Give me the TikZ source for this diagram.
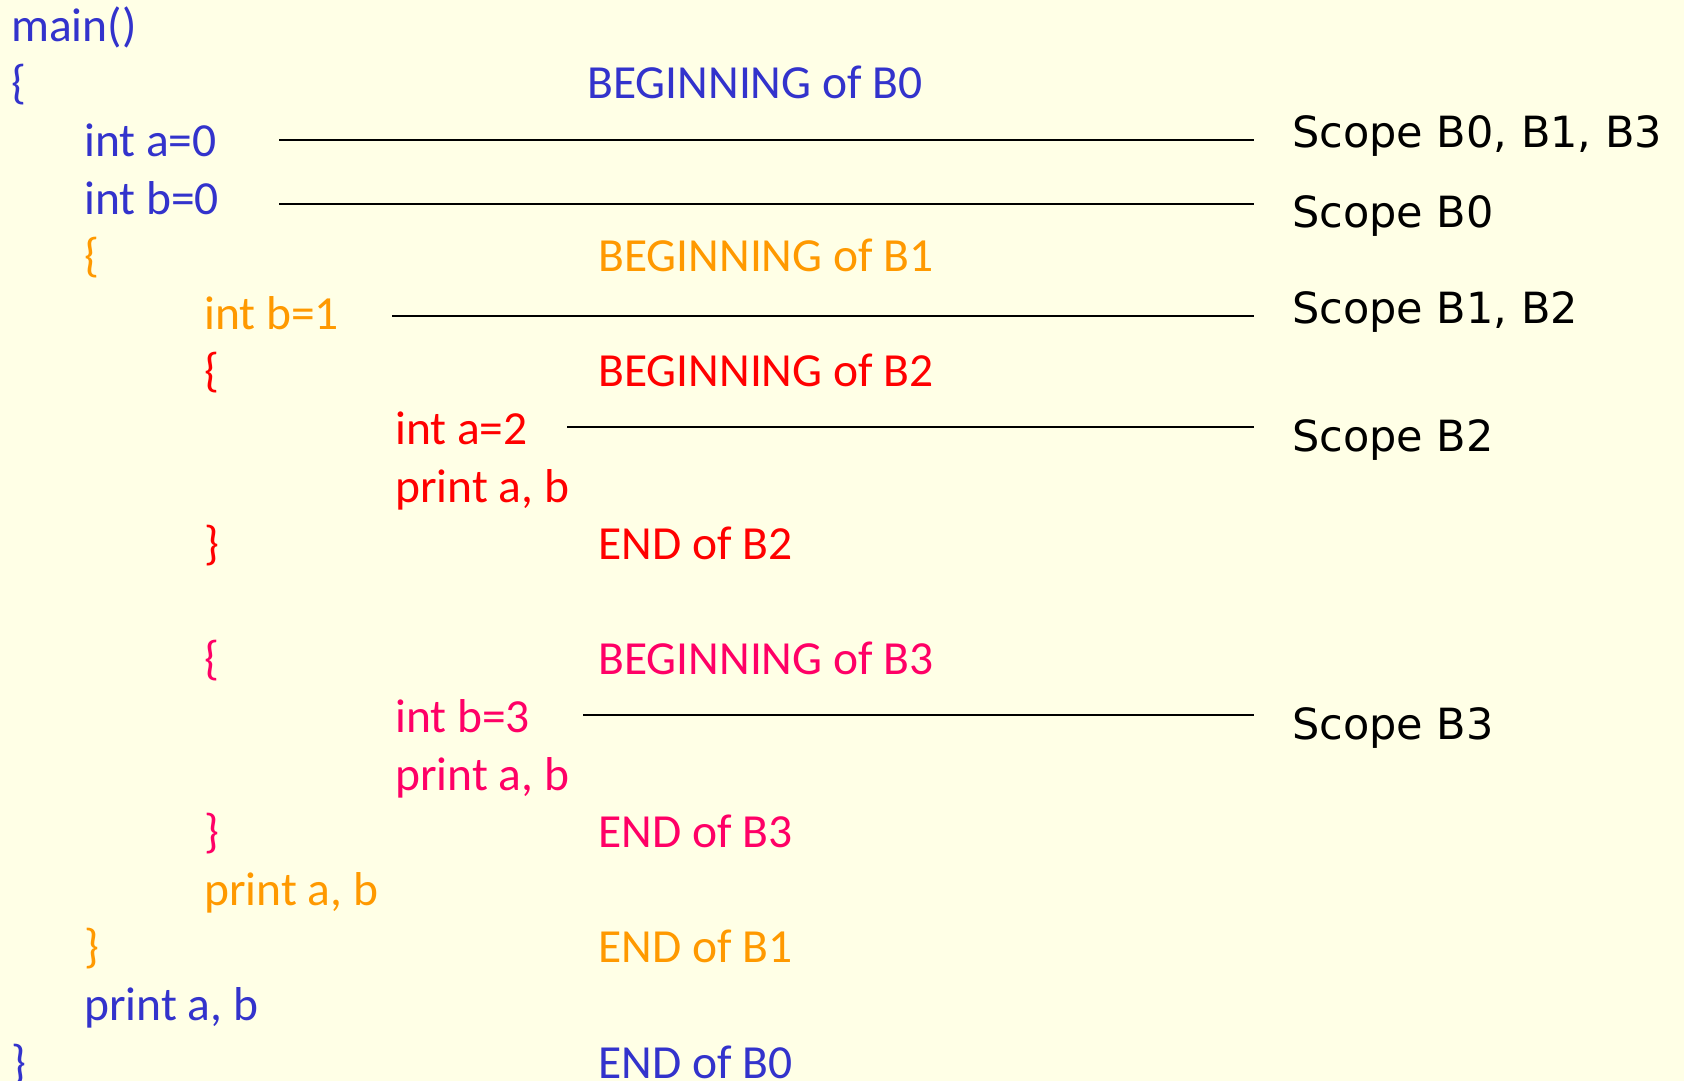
\documentclass[tikz,border=0pt]{standalone}
\usepackage{fontspec}
\setmainfont{Carlito}
\newfontfamily\scopefont{DejaVu Sans}
\definecolor{bgc}{RGB}{255,255,230}
\definecolor{cblue}{RGB}{51,51,204}
\definecolor{corange}{RGB}{255,153,0}
\definecolor{cred}{RGB}{255,0,0}
\definecolor{cpink}{RGB}{255,0,102}
\begin{document}
\begin{tikzpicture}[x=1pt,y=-1pt,
  code/.style={anchor=base west,inner sep=0pt,font=\fontsize{47.5}{57}\selectfont},
  scopelbl/.style={anchor=base west,inner sep=0pt,font=\scopefont\fontsize{43}{52}\selectfont,text=black},
  scopeline/.style={draw=black,line width=2pt}]
\fill[bgc] (0,0) rectangle (1684,1081);
\useasboundingbox (0,0) rectangle (1684,1081);
% rows: baseline = 41.2 + 57.6 k
\node[code,text=cblue] (main) at (11,41.2) {main()};
\node[code,text=cblue] (ob0) at (11,98.8) {\{};
\node[code,text=cblue] (beg0) at (587,98.8) {BEGINNING of B0};
\node[code,text=cblue] (ia0) at (84,156.4) {int a=0};
\node[code,text=cblue] (ib0) at (84,214) {int b=0};
\node[code,text=corange] (ob1) at (84,271.6) {\{};
\node[code,text=corange] (beg1) at (598,271.6) {BEGINNING of B1};
\node[code,text=corange] (ib1) at (204,329.2) {int b=1};
\node[code,text=cred] (ob2) at (204,386.8) {\{};
\node[code,text=cred] (beg2) at (598,386.8) {BEGINNING of B2};
\node[code,text=cred] (ia2) at (395,444.4) {int a=2};
\node[code,text=cred] (pr2) at (395,502) {print a, b};
\node[code,text=cred] (cb2) at (204,559.6) {\}};
\node[code,text=cred] (end2) at (598,559.6) {END of B2};
\node[code,text=cpink] (ob3) at (204,674.8) {\{};
\node[code,text=cpink] (beg3) at (598,674.8) {BEGINNING of B3};
\node[code,text=cpink] (ib3) at (395,732.4) {int b=3};
\node[code,text=cpink] (pr3) at (395,790) {print a, b};
\node[code,text=cpink] (cb3) at (204,847.6) {\}};
\node[code,text=cpink] (end3) at (598,847.6) {END of B3};
\node[code,text=corange] (pr1) at (204,905.2) {print a, b};
\node[code,text=corange] (cb1) at (84,962.8) {\}};
\node[code,text=corange] (end1) at (598,962.8) {END of B1};
\node[code,text=cblue] (pr0) at (84,1020.4) {print a, b};
\node[code,text=cblue] (cb0) at (11,1078) {\}};
\node[code,text=cblue] (end0) at (598,1078) {END of B0};
% scope labels
\node[scopelbl] (s1) at (1292,147) {Scope B0, B1, B3};
\node[scopelbl] (s2) at (1292,227) {Scope B0};
\node[scopelbl] (s3) at (1292,323) {Scope B1, B2};
\node[scopelbl] (s4) at (1292,451) {Scope B2};
\node[scopelbl] (s5) at (1292,739) {Scope B3};
% lines
\coordinate (l1a) at (279,140); \coordinate (l1b) at (1254,140);
\coordinate (l2a) at (279,204); \coordinate (l2b) at (1254,204);
\coordinate (l3a) at (392,316); \coordinate (l3b) at (1254,316);
\coordinate (l4a) at (567,427); \coordinate (l4b) at (1254,427);
\coordinate (l5a) at (583,715); \coordinate (l5b) at (1254,715);
\draw[scopeline] (l1a) -- (l1b);
\draw[scopeline] (l2a) -- (l2b);
\draw[scopeline] (l3a) -- (l3b);
\draw[scopeline] (l4a) -- (l4b);
\draw[scopeline] (l5a) -- (l5b);
\end{tikzpicture}
\end{document}
